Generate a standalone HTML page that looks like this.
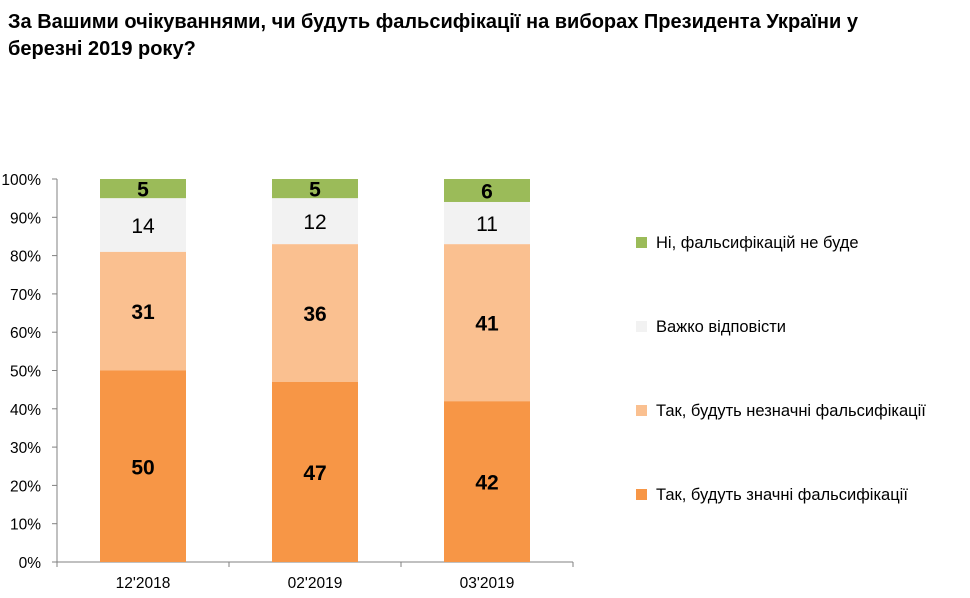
<!DOCTYPE html>
<html><head><meta charset="utf-8"><style>
body{margin:0;background:#fff;width:970px;height:598px;overflow:hidden;font-family:"Liberation Sans",sans-serif;}
#title{position:absolute;left:8px;top:9px;width:850px;font-weight:bold;font-size:20px;line-height:27px;color:#000;}
</style></head><body>
<div id="title">За Вашими очікуваннями, чи будуть фальсифікації на виборах Президента України у березні 2019 року?</div>
<svg id="chart" width="970" height="598" style="position:absolute;left:0;top:0" font-family="Liberation Sans, sans-serif"></svg>
<script>
const categories=["12'2018","02'2019","03'2019"];
const seriesNames=["Так, будуть значні фальсифікації","Так, будуть незначні фальсифікації","Важко відповісти","Ні, фальсифікацій не буде"];
const significant=[50,47,42];
const minor=[31,36,41];
const hard=[14,12,11];
const no=[5,5,6];
const yTicks=[0,10,20,30,40,50,60,70,80,90,100];
const colors=["#F79646","#FAC090","#F2F2F2","#9BBB59"];
const bold=[true,true,false,true];
const series=[significant,minor,hard,no];
const svg=document.getElementById('chart');
const NS='http://www.w3.org/2000/svg';
const x0=57,plotW=516,y0=562,y100=179;
const y=v=>y0-(v/100)*(y0-y100);
const catW=plotW/categories.length;
function mk(t,a){const e=document.createElementNS(NS,t);for(const k in a)e.setAttribute(k,a[k]);svg.appendChild(e);return e;}
let ax=mk('line',{x1:x0,y1:y100,x2:x0,y2:y0,stroke:'#808080'});


let xa=mk('line',{x1:x0,y1:y0,x2:x0+plotW,y2:y0,stroke:'#808080'});


yTicks.forEach(t=>{
  mk('line',{x1:x0-5,y1:y(t),x2:x0,y2:y(t),stroke:'#808080'});
  const tx=mk('text',{x:x0-16,y:y(t)+6,'text-anchor':'end','font-size':15.5,fill:'#000'});
  tx.textContent=t+'%';
  
  
});
for(let i=0;i<=categories.length;i++)mk('line',{x1:x0+i*catW,y1:y0,x2:x0+i*catW,y2:y0+5,stroke:'#808080'});
categories.forEach((c,i)=>{
  const cx=x0+catW*(i+0.5),bw=86;
  let acc=0;
  series.forEach((s,k)=>{
    const v=s[i];
    const r=mk('rect',{x:cx-bw/2,y:y(acc+v),width:bw,height:y(acc)-y(acc+v),fill:colors[k]});
    
    
    const t=mk('text',{x:cx,y:(y(acc)+y(acc+v))/2+8,'text-anchor':'middle','font-size':21,'font-weight':bold[k]?'bold':'normal',fill:'#000'});
    t.textContent=v;
    
    
    acc+=v;
  });
  const l=mk('text',{x:cx,y:y0+26,'text-anchor':'middle','font-size':15.5,fill:'#000'});
  l.textContent=c;
  
  
});
const legY=[494,410,326,242];
seriesNames.forEach((n,k)=>{
  const r=mk('rect',{x:636,y:legY[k]-5,width:11,height:11,fill:colors[k]});
  
  
  const t=mk('text',{x:656,y:legY[k]+6,'font-size':16.5,fill:'#000'});
  t.textContent=n;
  
  
});
</script>
</body></html>
